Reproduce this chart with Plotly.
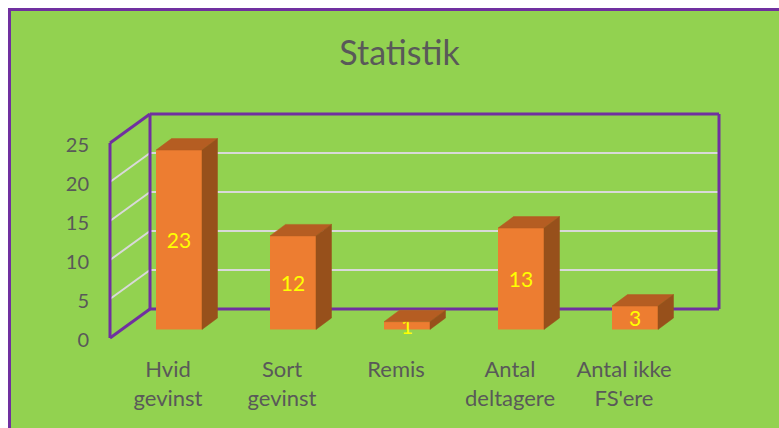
import plotly.graph_objects as go

categories = ["Hvid<br>gevinst", "Sort<br>gevinst", "Remis", "Antal<br>deltagere", "Antal ikke<br>FS'ere"]
values = [23, 12, 1, 13, 3]
y_ticks = [0, 5, 10, 15, 20, 25]

W, H = 779, 428
L, R, T, B = 90, 760, 100, 352      # plot area in window px
Y0_PX, PX_PER_UNIT = 338, 7.8       # y=0 on the front wall
X0_PX, PX_PER_CAT = 168, 114        # first category label

GREEN, PURPLE, GRID = "#92D250", "#7030A0", "#D9D9D9"
FRONT, TOP, SIDE, TEXT = "#ED7D31", "#B55D22", "#97501B", "#595959"
FONT = "Lato, Carlito, sans-serif"

def dx(px): return px / PX_PER_CAT
def dy(px): return px / PX_PER_UNIT

xr = [(L - X0_PX) / PX_PER_CAT, (R - X0_PX) / PX_PER_CAT]
yr = [(Y0_PX - B) / PX_PER_UNIT, (Y0_PX - T) / PX_PER_UNIT]

# wall geometry
wall_front_x = dx(110 - X0_PX)
wall_back_x = dx(150 - X0_PX)
wall_right_x = dx(719 - X0_PX)
wall_dy = dy(29)
# bar geometry
bar_off, bar_w = dx(11), dx(46)
bar_base = dy(8.5)
depth_x, depth_y = dx(15.5), dy(11.5)

cats = list(range(len(categories)))
shapes = [dict(type="rect", xref="paper", yref="paper",
               x0=(9.5 - L) / (R - L), x1=(W + 20 - L) / (R - L),
               y0=(B - H - 20) / (B - T), y1=(B - 9.5) / (B - T),
               fillcolor=GREEN, line=dict(color=PURPLE, width=3), layer="below")]

def seg(x0, y0, x1, y1, color, width):
    shapes.append(dict(type="line", xref="x", yref="y", x0=x0, y0=y0, x1=x1, y1=y1,
                       line=dict(color=color, width=width), layer="below"))

for t in y_ticks[1:-1]:
    seg(wall_front_x, t, wall_back_x, t + wall_dy, GRID, 2)
    seg(wall_back_x, t + wall_dy, wall_right_x, t + wall_dy, GRID, 2)
top_v = y_ticks[-1]
for a in [(wall_front_x, 0, wall_back_x, wall_dy),
          (wall_front_x, top_v, wall_back_x, top_v + wall_dy),
          (wall_front_x, 0, wall_front_x, top_v),
          (wall_back_x, wall_dy, wall_back_x, top_v + wall_dy),
          (wall_back_x, wall_dy, wall_right_x, wall_dy),
          (wall_back_x, top_v + wall_dy, wall_right_x, top_v + wall_dy),
          (wall_right_x, wall_dy, wall_right_x, top_v + wall_dy)]:
    seg(*a, PURPLE, 3)

fig = go.Figure()
fig.add_bar(x=[c + bar_off for c in cats], y=values, base=bar_base, width=bar_w,
            marker=dict(color=FRONT, line=dict(width=0)),
            text=[str(v) for v in values], textposition="inside",
            insidetextanchor="middle", constraintext="none", textangle=0,
            insidetextfont=dict(color="#FFFF00", size=21, family=FONT),
            hoverinfo="skip")

top_x, top_y, side_x, side_y = [], [], [], []
for c, v in zip(cats, values):
    x0 = c + bar_off - bar_w / 2
    x1 = c + bar_off + bar_w / 2
    yt = bar_base + v
    top_x += [x0, x1, x1 + depth_x, x0 + depth_x, x0, None]
    top_y += [yt, yt, yt + depth_y, yt + depth_y, yt, None]
    side_x += [x1, x1 + depth_x, x1 + depth_x, x1, x1, None]
    side_y += [bar_base, bar_base + depth_y, yt + depth_y, yt, bar_base, None]
fig.add_scatter(x=top_x, y=top_y, mode="lines", fill="toself", fillcolor=TOP,
                line=dict(color=TOP, width=0.5), hoverinfo="skip")
fig.add_scatter(x=side_x, y=side_y, mode="lines", fill="toself", fillcolor=SIDE,
                line=dict(color=SIDE, width=0.5), hoverinfo="skip")

fig.update_layout(
    width=W, height=H, showlegend=False, shapes=shapes,
    margin=dict(l=L, r=W - R, t=T, b=H - B, pad=0),
    paper_bgcolor="white", plot_bgcolor="rgba(0,0,0,0)",
    font=dict(family=FONT, color=TEXT),
    title=dict(text="Statistik", x=399.5 / W, xanchor="center",
               y=1 - 53 / H, yanchor="middle",
               font=dict(size=34, color=TEXT, family=FONT)),
    xaxis=dict(range=xr, tickmode="array", tickvals=cats, ticktext=categories,
               showgrid=False, zeroline=False, showline=False, ticks="",
               tickangle=0, ticklabelstandoff=2,
               tickfont=dict(size=22, color=TEXT, family=FONT)),
    yaxis=dict(range=yr, tickmode="array", tickvals=y_ticks,
               showgrid=False, zeroline=False, showline=False, ticks="",
               ticklabelshift=2,
               tickfont=dict(size=20, color=TEXT, family=FONT)),
)
fig.write_html("out.html", config={"displayModeBar": False, "staticPlot": True},
               post_script="document.body.style.margin='0';document.documentElement.style.overflow='hidden';")
